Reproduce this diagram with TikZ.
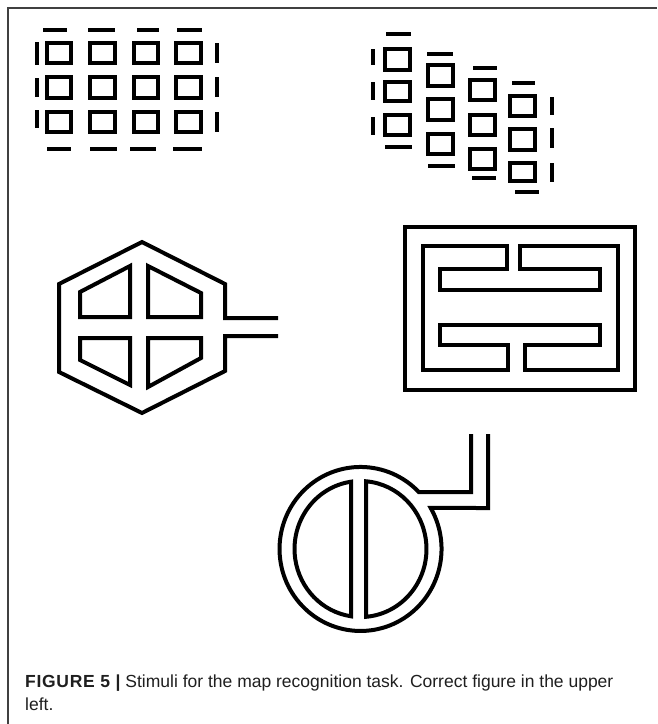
\documentclass[tikz,border=0pt]{standalone}
\usepackage{fontspec}
\setmainfont{Liberation Sans}
\begin{document}
\begin{tikzpicture}[x=1pt,y=-1pt,
  sqline/.style={line width=4pt,line join=miter},
  dashline/.style={line width=3.5pt},
  shapeline/.style={line width=4pt,line join=miter},
  framing/.style={line width=1.1pt,draw=black!75},
  captext/.style={anchor=base west,inner sep=0pt,font=\fontsize{17.5}{23}\selectfont,text=black!88}]
\useasboundingbox (0,0) rectangle (657,724);
\fill[white] (0,0) rectangle (657,724);
% frame
\draw[framing] (8,724) -- (8,8) -- (657,8);
% ---------- grid 1 ----------
\foreach \ya/\yb in {41/65,75/100,110/134}{
  \foreach \xa/\xb in {45/73,88/117,132/160,174/203}{
    \draw[sqline] (\xa+2,\ya+2) rectangle (\xb-2,\yb-2);
  }
}
\foreach \xa/\xb in {43/67,88/115,137/159,177/202}{
  \draw[dashline] (\xa,30) -- (\xb,30);
}
\foreach \xa/\xb in {47/71,90/117,130/156,173/202}{
  \draw[dashline] (\xa,149) -- (\xb,149);
}
\foreach \ya/\yb in {42/65,78/97,110/128}{
  \draw[dashline] (37,\ya) -- (37,\yb);
}
\foreach \ya/\yb in {43/63,77/97,112/132}{
  \draw[dashline] (217,\ya) -- (217,\yb);
}
% ---------- grid 2 (sheared) ----------
% column 1
\foreach \ya/\yb in {47/72,80/103,113/137}{
  \draw[sqline] (383+2,\ya+2) rectangle (412-2,\yb-2);
}
\draw[dashline] (386,34) -- (411,34);
\draw[dashline] (385,147) -- (412,147);
\foreach \ya/\yb in {49/65,82/100,117/135}{
  \draw[dashline] (373,\ya) -- (373,\yb);
}
% column 2
\foreach \ya/\yb in {63/88,97/122,132/156}{
  \draw[sqline] (426+2,\ya+2) rectangle (455-2,\yb-2);
}
\draw[dashline] (427,54) -- (453,54);
\draw[dashline] (428,166) -- (455,166);
% column 3
\foreach \ya/\yb in {78/102,113/137,147/171}{
  \draw[sqline] (468+2,\ya+2) rectangle (497-2,\yb-2);
}
\draw[dashline] (473,68) -- (497,68);
\draw[dashline] (472,178) -- (496,178);
% column 4
\foreach \ya/\yb in {94/118,127/152,161/183}{
  \draw[sqline] (508+2,\ya+2) rectangle (537-2,\yb-2);
}
\draw[dashline] (512,83) -- (535,83);
\draw[dashline] (515,192) -- (539,192);
\foreach \ya/\yb in {97/115,128/148,163/182}{
  \draw[dashline] (552,\ya) -- (552,\yb);
}
% ---------- hexagon ----------
\draw[shapeline] (278,318) -- (225,318) -- (225,284) -- (142,242) -- (59,284)
  -- (59,372) -- (142,413) -- (225,371) -- (225,336) -- (278,336);
\draw[shapeline] (130,266) -- (80,292) -- (80,317) -- (130,317) -- cycle;
\draw[shapeline] (148,266) -- (201,293) -- (201,317) -- (148,317) -- cycle;
\draw[shapeline] (80,338) -- (130,338) -- (130,385) -- (80,360) -- cycle;
\draw[shapeline] (148,338) -- (201,338) -- (201,358) -- (148,387) -- cycle;
% ---------- maze rectangle ----------
\draw[shapeline] (405,227) rectangle (635,390);
\draw[shapeline] (423,246) -- (507,246) -- (507,269) -- (440,269) -- (440,290)
  -- (600,290) -- (600,269) -- (520,269) -- (520,246) -- (618,246)
  -- (618,370) -- (525,370) -- (525,345) -- (600,345) -- (600,325)
  -- (440,325) -- (440,345) -- (508,345) -- (508,370) -- (423,370) -- cycle;
% ---------- circle ----------
\draw[shapeline] (471,434) -- (471,492) -- (418.8,492)
  arc[start angle=-44, end angle=-390, x radius=81, y radius=82]
  -- (488,508) -- (488,434);
\draw[shapeline] (351,481.7)
  arc[start angle=-98.3, end angle=-261.7, x radius=66, y radius=68] -- cycle;
\draw[shapeline] (366,616.8)
  arc[start angle=85.2, end angle=-85.2, x radius=66, y radius=68] -- cycle;
% ---------- caption ----------
\node[captext] (cap1) at (25,687)
  {{\bfseries\addfontfeatures{LetterSpace=4}FIGURE 5 |} Stimuli for the map recognition task. Correct figure in the upper};
\node[captext] (cap2) at (25,710) {left.};
\end{tikzpicture}
\end{document}
